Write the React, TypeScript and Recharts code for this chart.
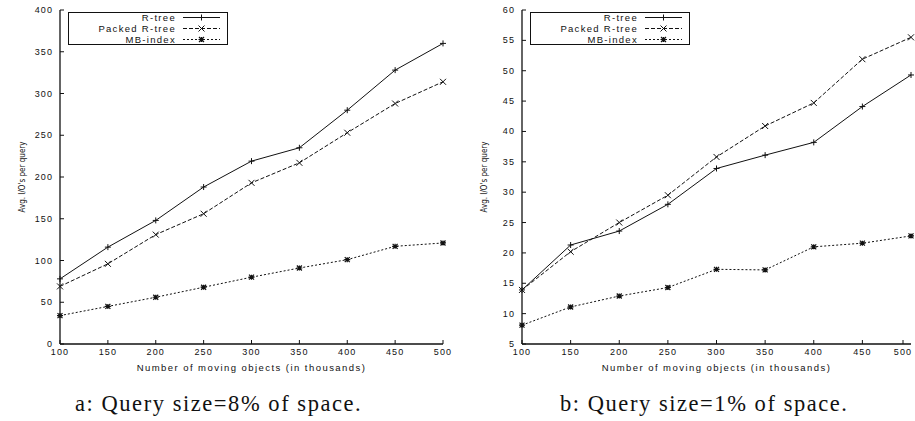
import { LineChart, Line, XAxis, YAxis, Legend } from 'recharts'

const objects = [100, 150, 200, 250, 300, 350, 400, 450, 500]

// a: query size 8%
const rtreeA = [78, 116, 148, 188, 219, 235, 280, 328, 360]
const packedA = [69, 96, 131, 156, 193, 217, 253, 288, 314]
const mbA = [34, 45, 56, 68, 80, 91, 101, 117, 121]
const yTicksA = [0, 50, 100, 150, 200, 250, 300, 350, 400]

// b: query size 1%
const rtreeB = [13.9, 21.3, 23.6, 28, 33.9, 36.1, 38.2, 44.1, 49.3]
const packedB = [13.9, 20.2, 25, 29.5, 35.8, 40.9, 44.7, 51.9, 55.5]
const mbB = [8.1, 11.1, 12.9, 14.3, 17.3, 17.2, 21, 21.6, 22.8]
const yTicksB = [5, 10, 15, 20, 25, 30, 35, 40, 45, 50, 55, 60]

const seriesNames = ['R-tree', 'Packed R-tree', 'MB-index']

const INK = '#111'
const SANS = '"Liberation Sans", Arial, sans-serif'

const PlusDot = ({ cx, cy }: any) => (
  <path d={`M${cx-3},${cy}H${cx+3}M${cx},${cy-3}V${cy+3}`} stroke={INK} strokeWidth={1} />
)
const CrossDot = ({ cx, cy }: any) => (
  <path d={`M${cx-3},${cy-3}L${cx+3},${cy+3}M${cx-3},${cy+3}L${cx+3},${cy-3}`} stroke={INK} strokeWidth={1} />
)
const StarDot = ({ cx, cy }: any) => (
  <path d={`M${cx-3},${cy}H${cx+3}M${cx},${cy-2.5}V${cy+2.5}M${cx-2.5},${cy-2.5}L${cx+2.5},${cy+2.5}M${cx-2.5},${cy+2.5}L${cx+2.5},${cy-2.5}`} stroke={INK} strokeWidth={1.2} />
)

const dots = [PlusDot, CrossDot, StarDot]
const dashes = [undefined, '4 2', '2 2']

const BottomTick = ({ x, y, payload }: any) => (
  <g>
    <line x1={x} y1={y} x2={x} y2={y - 4} stroke={INK} />
    <text x={x} y={y + 11} textAnchor="middle" fontSize={9} letterSpacing={1.1} fontFamily={SANS} fill={INK}>{payload.value}</text>
  </g>
)
const TopTick = ({ x, y }: any) => <line x1={x} y1={y} x2={x} y2={y + 4} stroke={INK} />
const LeftTick = ({ x, y, payload }: any) => (
  <g>
    <line x1={x} y1={y} x2={x + 4} y2={y} stroke={INK} />
    <text x={x - 7} y={y + 3} textAnchor="end" fontSize={9} letterSpacing={1.1} fontFamily={SANS} fill={INK}>{payload.value}</text>
  </g>
)
const RightTick = ({ x, y }: any) => <line x1={x} y1={y} x2={x - 4} y2={y} stroke={INK} />

const LegendBox = () => (
  <svg width={160} height={33} style={{ display: 'block' }}>
    <rect x={0.5} y={0.5} width={159} height={32} fill="#fff" stroke={INK} />
    {seriesNames.map((n, i) => {
      const y = 5.5 + i * 11
      const D = dots[i]
      return (
        <g key={n}>
          <text x={108} y={y + 3.5} textAnchor="end" fontSize={9.5} letterSpacing={1.3} fontFamily={SANS} fill={INK}>{n}</text>
          <line x1={115} y1={y} x2={152} y2={y} stroke={INK} strokeDasharray={dashes[i]} />
          <D cx={133.5} cy={y} />
        </g>
      )
    })}
  </svg>
)

function Panel({ rtree, packed, mb, yTicks, axisW, rightM, caption, capLeft }: any) {
  const data = objects.map((n, i) => ({ n, rtree: rtree[i], packed: packed[i], mb: mb[i] }))
  const yDomain = [yTicks[0], yTicks[yTicks.length - 1]]
  return (
    <div style={{ position: 'relative', width: 460, height: 421 }}>
      <LineChart width={460} height={380} data={data} margin={{ top: 10, right: rightM, bottom: 6, left: 0 }}>
        <XAxis dataKey="n" type="number" domain={[100, 500]} ticks={objects} tickSize={0} tickMargin={0}
          tick={<BottomTick />} height={30} axisLine={{ stroke: INK, strokeWidth: 1.3 }}
          label={{ value: 'Number of moving objects (in thousands)', position: 'insideBottom', offset: 3, fontSize: 9.5, letterSpacing: 1.45, fontFamily: SANS, fill: INK }} />
        <XAxis xAxisId="top" dataKey="n" type="number" orientation="top" domain={[100, 500]} ticks={objects}
          tickSize={0} tickMargin={0} tick={<TopTick />} height={0} axisLine={{ stroke: INK, strokeWidth: 1.3 }} />
        <YAxis type="number" domain={yDomain} ticks={yTicks} width={axisW} tickSize={0} tickMargin={0}
          tick={<LeftTick />} axisLine={{ stroke: INK, strokeWidth: 1.3 }}
          label={{ value: "Avg. I/O's per query", angle: -90, position: 'center', dx: -8 + (axisW - 60) / 2, fontSize: 8, fontFamily: '"Liberation Sans Narrow", "DejaVu Sans Condensed", sans-serif', fill: INK }} />
        <YAxis yAxisId="r" orientation="right" type="number" domain={yDomain} ticks={yTicks} width={0}
          tickSize={0} tickMargin={0} tick={<RightTick />} axisLine={{ stroke: INK, strokeWidth: 1.3 }} />
        <Legend layout="horizontal" verticalAlign="middle" align="center" content={<LegendBox />}
          wrapperStyle={{ position: 'absolute', left: axisW + 8, top: 12, width: 160 }} />
        <Line dataKey="rtree" name="R-tree" stroke={INK} strokeWidth={1} dot={<PlusDot />} isAnimationActive={false} />
        <Line dataKey="packed" name="Packed R-tree" stroke={INK} strokeWidth={1} strokeDasharray="4 2" dot={<CrossDot />} isAnimationActive={false} />
        <Line dataKey="mb" name="MB-index" stroke={INK} strokeWidth={1} strokeDasharray="2 2" dot={<StarDot />} isAnimationActive={false} />
      </LineChart>
      <div style={{ position: 'absolute', left: capLeft, top: 391, fontFamily: '"Liberation Serif", "DejaVu Serif", serif', fontSize: 22.5, color: INK, whiteSpace: 'nowrap', letterSpacing: 1.55 }}>
        {caption}
      </div>
    </div>
  )
}

export default function App() {
  return (
    <div style={{ position: 'absolute', left: 0, top: 0, width: 915, height: 421, background: '#fff', overflow: 'hidden' }}>
      <div style={{ position: 'absolute', left: 0, top: 0 }}>
        <Panel rtree={rtreeA} packed={packedA} mb={mbA} yTicks={yTicksA} axisW={60} rightM={17}
          caption="a: Query size=8% of space." capLeft={75} />
      </div>
      <div style={{ position: 'absolute', left: 455, top: 0 }}>
        <Panel rtree={rtreeB} packed={packedB} mb={mbB} yTicks={yTicksB} axisW={67} rightM={4}
          caption="b: Query size=1% of space." capLeft={105} />
      </div>
    </div>
  )
}
